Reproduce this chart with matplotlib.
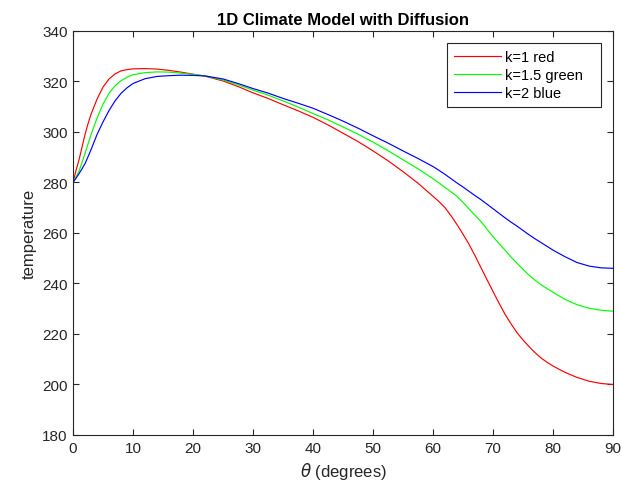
import numpy as np
import matplotlib
matplotlib.use("Agg")
from matplotlib import pyplot as plt
from matplotlib.patches import Rectangle

plt.rcParams['font.family'] = ['Liberation Sans', 'DejaVu Sans']

# latitude (degrees) and temperature for each diffusion constant
theta = [0, 0.5, 1, 1.5, 2, 2.5, 3, 4, 5, 6, 7, 8, 9, 10, 12, 14, 16, 18, 20, 22,
         25, 27.5, 30, 32.5, 35, 37.5, 40, 42.5, 45, 47.5, 50, 52.5, 55, 57.5, 60,
         61, 62, 63, 64, 65, 66, 67, 68, 69, 70, 71, 72, 73, 74, 75, 76, 77, 78, 79,
         80, 82, 84, 86, 88, 90]

T_k1 = [280, 284.8, 289, 294, 299, 303.3, 307, 313, 317.8, 321, 323, 324.2, 324.7,
        325, 325.1, 324.9, 324.4, 323.7, 322.9, 322.1,
        320.2, 318.0, 315.5, 313.3, 310.8, 308.4, 305.8, 302.8, 299.5, 296.2, 292.5,
        288.6, 284.3, 279.7, 274.5,
        272.4, 270, 266.8, 263.3, 259.5, 255.5, 251, 246.2, 241.5, 236.8, 232.2,
        227.8, 224, 220.5, 217.6, 215, 212.6, 210.5, 208.8,
        207.3, 204.8, 202.8, 201.3, 200.4, 200]

T_k15 = [280, 282.2, 284.5, 288, 291.5, 295.3, 299, 305.5, 311, 315.3, 318.3, 320.3,
         321.7, 322.7, 323.5, 323.8, 323.7, 323.3, 322.8, 322.2,
         320.6, 318.7, 316.6, 314.6, 312.3, 309.9, 307.3, 304.8, 302, 299.1, 296,
         292.6, 289, 285.4, 281.5,
         279.8, 278, 276.3, 274.5, 272.1, 269.5, 267, 264.5, 261.5, 258.5, 255.8,
         253.2, 250.5, 248, 245.6, 243.3, 241.3, 239.5, 238,
         236.5, 233.7, 231.6, 230.2, 229.4, 229]

T_k2 = [280, 281.7, 283.5, 285.4, 287.5, 290.2, 293, 299, 304, 308.5, 312.3, 315.3,
        317.5, 319.2, 321.1, 322, 322.3, 322.5, 322.4, 322.2,
        321, 319.2, 317.2, 315.4, 313.3, 311.4, 309.4, 306.9, 304.3, 301.5, 298.5,
        295.6, 292.5, 289.5, 286.3,
        284.8, 283.2, 281.5, 279.8, 278.2, 276.5, 274.8, 273.2, 271.4, 269.6, 267.8,
        266, 264.3, 262.7, 261, 259.3, 257.7, 256.2, 254.7,
        253.2, 250.6, 248.3, 246.9, 246.2, 246]

labels = ['k=1 red', 'k=1.5 green', 'k=2 blue']
colors = ['#ff0000', '#00ff00', '#0000ff']

fig = plt.figure(figsize=(6.21, 4.89), dpi=100)
ax = fig.add_axes([0.1176, 0.1084, 0.8696, 0.8262])

for T, lab, c in zip([T_k1, T_k15, T_k2], labels, colors):
    ax.plot(theta, T, color=c, lw=0.85, label=lab)

ax.set_xlim(0, 90)
ax.set_ylim(180, 340)
ax.set_xticks(np.arange(0, 91, 10))
ax.set_yticks(np.arange(180, 341, 20))
ax.tick_params(direction='in', top=True, right=True, length=4.5, width=0.8,
               labelsize=11, colors='#262626', pad=4)
for s in ax.spines.values():
    s.set_linewidth(0.8)
    s.set_color('#262626')

ax.set_xlabel(r'$\theta$ (degrees)', fontsize=12, color='#262626')
ax.set_ylabel('temperature', fontsize=12, color='#262626')
ax.set_title('1D Climate Model with Diffusion', fontsize=12, fontweight='bold', pad=5)

# legend without its own frame; box drawn afterwards with extra room on the right
leg = ax.legend(loc='upper left', bbox_to_anchor=(0.6926, 0.970), fontsize=10.5,
                frameon=False, handlelength=3.2, handletextpad=0.25,
                borderpad=0.5, labelspacing=0.25, borderaxespad=0)
fig.canvas.draw()
bb = leg.get_window_extent().transformed(ax.transAxes.inverted())
box_w = (601 - 447) / 540.0
ax.add_patch(Rectangle((bb.x0, bb.y0), box_w, bb.height, transform=ax.transAxes,
                       fill=False, edgecolor='#262626', lw=0.8, zorder=5))

fig.savefig('out.png', dpi=100)
